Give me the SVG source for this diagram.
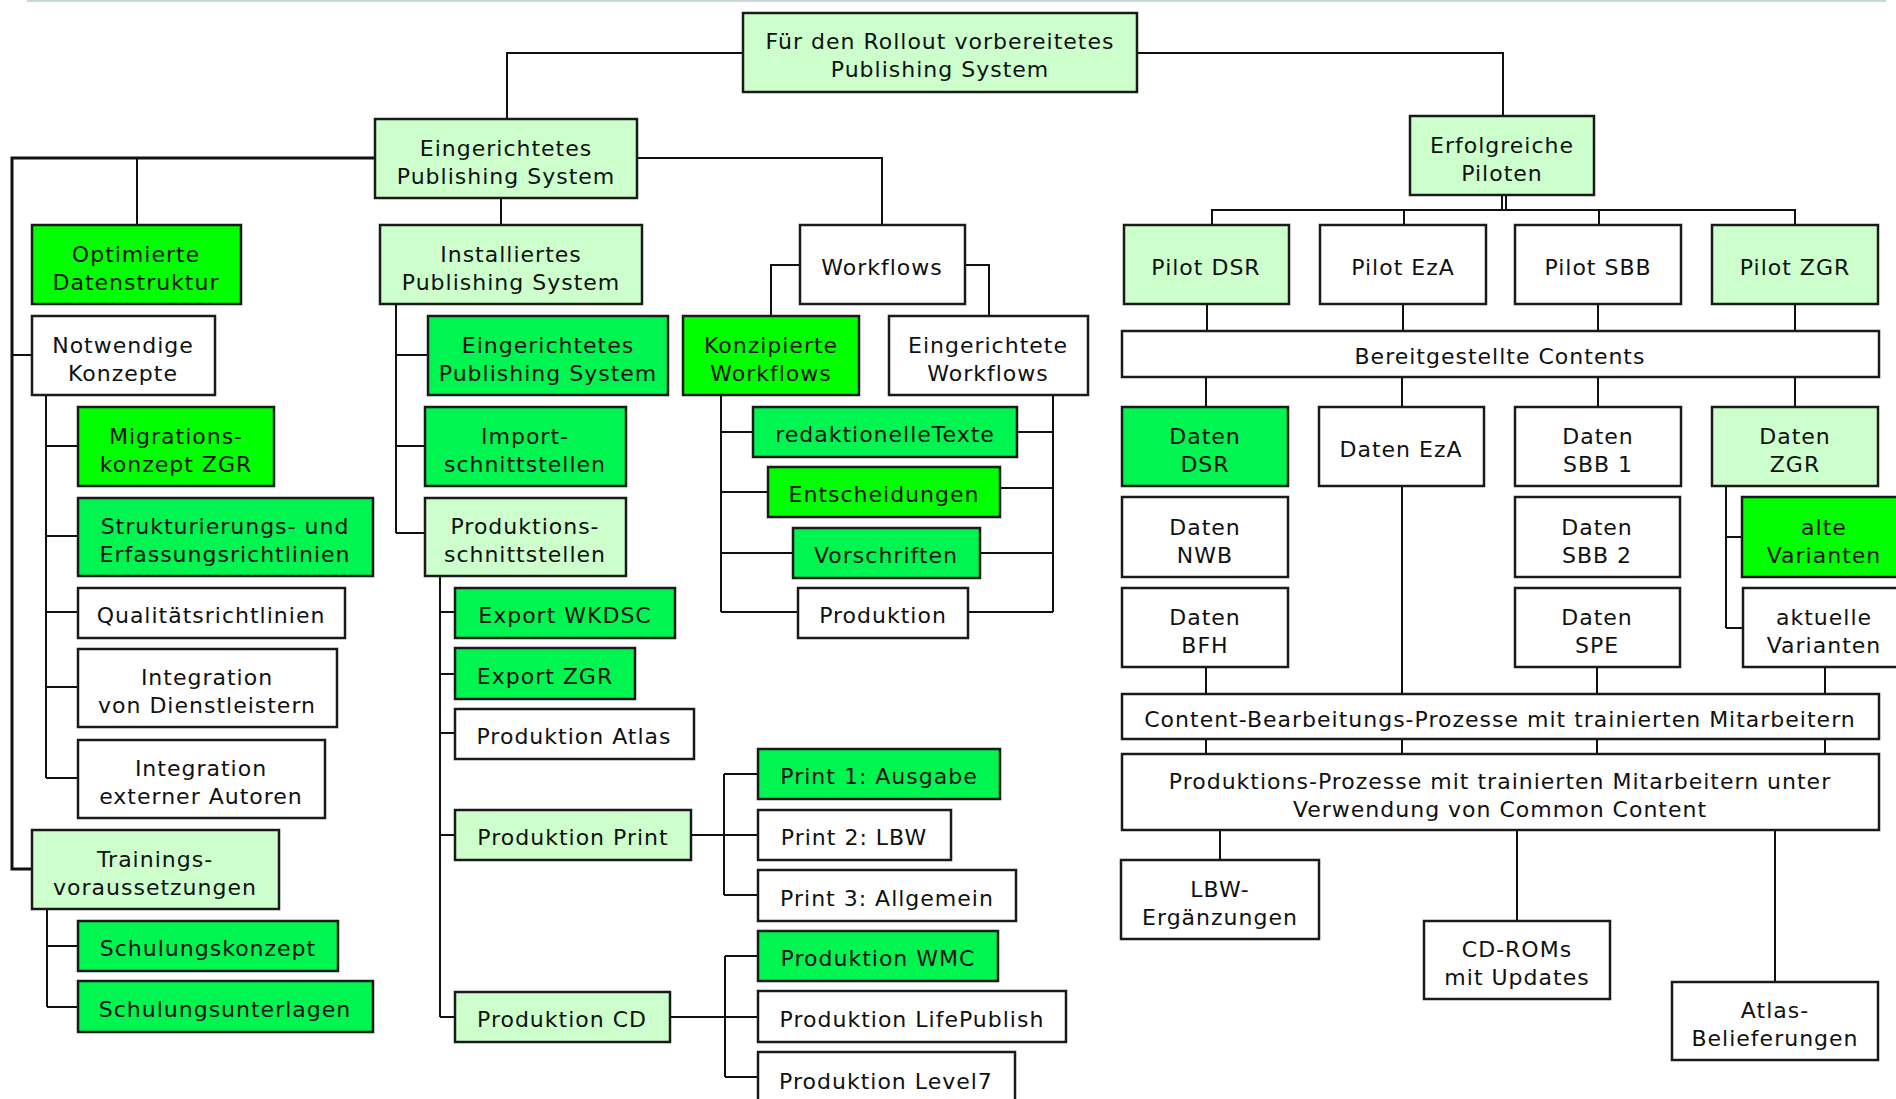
<svg xmlns="http://www.w3.org/2000/svg" width="1896" height="1099" viewBox="0 0 1896 1099">
<style>
rect{stroke:#1a1a1a;stroke-width:2.5}
.w{fill:#ffffff}.l{fill:#ccffcc}.b{fill:#00ff00}.m{fill:#00f550}
text{font-family:"DejaVu Sans","Liberation Sans",sans-serif;font-size:22px;letter-spacing:1px;fill:#111;text-anchor:middle;transform:translate(0px,2px)}
#connectors path{fill:none;stroke:#111;stroke-width:2}
</style>
<rect x="0" y="0" width="1896" height="1099" fill="#ffffff" style="stroke:none"/>
<path d="M27,1 H1886" stroke="#c5dada" stroke-width="2"/>
<g id="connectors">
<path d="M743,53 H507 V119"/>
<path d="M1137,53 H1503 V116"/>
<path d="M375,158 H12 V869 H32" style="stroke-width:3"/>
<path d="M137,158 V225"/>
<path d="M12,355 H32"/>
<path d="M637,158 H882 V225"/>
<path d="M501,198 V225"/>
<path d="M46,395 V778 M46,446 H78 M46,536 H78 M46,612 H78 M46,687 H78 M46,778 H78"/>
<path d="M47,909 V1007 M47,946 H78 M47,1007 H78"/>
<path d="M396,304 V533 M396,355 H428 M396,446 H425 M396,533 H425"/>
<path d="M440,576 V1017 M440,612 H455 M440,674 H455 M440,733 H455 M440,835 H455 M440,1017 H455"/>
<path d="M691,835 H758 M724,774 V895 M724,774 H758 M724,895 H758" />
<path d="M670,1017 H758 M725,956 V1077 M725,956 H758 M725,1077 H758"/>
<path d="M800,265 H771 V316 M965,265 H989 V316"/>
<path d="M721,395 V612 M721,432 H753 M721,492 H768 M721,553 H793 M721,612 H798"/>
<path d="M1053,390 V612 M1017,432 H1053 M1000,488 H1053 M980,553 H1053 M968,612 H1053"/>
<path d="M1502,195 V210 M1506,195 V210"/>
<path d="M1212,225 V210 H1795 V225 M1404,210 V225 M1599,210 V225"/>
<path d="M1207,304 V331 M1403,304 V331 M1598,304 V331 M1795,304 V331"/>
<path d="M1206,377 V407 M1402,377 V407 M1598,377 V407 M1795,377 V407"/>
<path d="M1726,486 V628 M1726,537 H1742 M1726,628 H1743"/>
<path d="M1402,486 V694"/>
<path d="M1206,667 V694 M1597,667 V694 M1825,667 V694"/>
<path d="M1206,739 V754 M1402,739 V754 M1597,739 V754 M1825,739 V754"/>
<path d="M1220,830 V860 M1517,830 V921 M1775,830 V982"/>
</g>
<g id="n-root"><rect class="l" x="743" y="13" width="394" height="79"/><text x="940" y="47">Für den Rollout vorbereitetes</text><text x="940" y="75">Publishing System</text></g>
<g id="n-eps"><rect class="l" x="375" y="119" width="262" height="79"/><text x="506" y="154">Eingerichtetes</text><text x="506" y="182">Publishing System</text></g>
<g id="n-erfolg"><rect class="l" x="1410" y="116" width="184" height="79"/><text x="1502" y="151">Erfolgreiche</text><text x="1502" y="179">Piloten</text></g>
<g id="n-optim"><rect class="b" x="32" y="225" width="209" height="79"/><text x="136" y="260">Optimierte</text><text x="136" y="288">Datenstruktur</text></g>
<g id="n-notw"><rect class="w" x="32" y="316" width="183" height="79"/><text x="123" y="351">Notwendige</text><text x="123" y="379">Konzepte</text></g>
<g id="n-migr"><rect class="b" x="78" y="407" width="196" height="79"/><text x="176" y="442">Migrations-</text><text x="176" y="470">konzept ZGR</text></g>
<g id="n-strukt"><rect class="m" x="78" y="498" width="295" height="78"/><text x="225" y="532">Strukturierungs- und</text><text x="225" y="560">Erfassungsrichtlinien</text></g>
<g id="n-qual"><rect class="w" x="78" y="588" width="267" height="50"/><text x="211" y="621">Qualitätsrichtlinien</text></g>
<g id="n-intdl"><rect class="w" x="78" y="649" width="259" height="78"/><text x="207" y="683">Integration</text><text x="207" y="711">von Dienstleistern</text></g>
<g id="n-intext"><rect class="w" x="78" y="740" width="247" height="78"/><text x="201" y="774">Integration</text><text x="201" y="802">externer Autoren</text></g>
<g id="n-train"><rect class="l" x="32" y="830" width="247" height="79"/><text x="155" y="865">Trainings-</text><text x="155" y="893">voraussetzungen</text></g>
<g id="n-schk"><rect class="m" x="78" y="921" width="260" height="50"/><text x="208" y="954">Schulungskonzept</text></g>
<g id="n-schu"><rect class="m" x="78" y="981" width="295" height="51"/><text x="225" y="1015">Schulungsunterlagen</text></g>
<g id="n-inst"><rect class="l" x="380" y="225" width="262" height="79"/><text x="511" y="260">Installiertes</text><text x="511" y="288">Publishing System</text></g>
<g id="n-eps2"><rect class="m" x="428" y="316" width="240" height="79"/><text x="548" y="351">Eingerichtetes</text><text x="548" y="379">Publishing System</text></g>
<g id="n-import"><rect class="m" x="425" y="407" width="201" height="79"/><text x="525" y="442">Import-</text><text x="525" y="470">schnittstellen</text></g>
<g id="n-prods"><rect class="l" x="425" y="498" width="201" height="78"/><text x="525" y="532">Produktions-</text><text x="525" y="560">schnittstellen</text></g>
<g id="n-expw"><rect class="m" x="455" y="588" width="220" height="50"/><text x="565" y="621">Export WKDSC</text></g>
<g id="n-expz"><rect class="m" x="455" y="648" width="180" height="51"/><text x="545" y="682">Export ZGR</text></g>
<g id="n-patlas"><rect class="w" x="455" y="709" width="239" height="50"/><text x="574" y="742">Produktion Atlas</text></g>
<g id="n-pprint"><rect class="l" x="455" y="810" width="236" height="50"/><text x="573" y="843">Produktion Print</text></g>
<g id="n-pcd"><rect class="l" x="455" y="992" width="215" height="50"/><text x="562" y="1025">Produktion CD</text></g>
<g id="n-p1"><rect class="m" x="758" y="749" width="242" height="50"/><text x="879" y="782">Print 1: Ausgabe</text></g>
<g id="n-p2"><rect class="w" x="758" y="810" width="193" height="50"/><text x="854" y="843">Print 2: LBW</text></g>
<g id="n-p3"><rect class="w" x="758" y="870" width="258" height="51"/><text x="887" y="904">Print 3: Allgemein</text></g>
<g id="n-wmc"><rect class="m" x="758" y="931" width="240" height="50"/><text x="878" y="964">Produktion WMC</text></g>
<g id="n-lifep"><rect class="w" x="758" y="991" width="308" height="51"/><text x="912" y="1025">Produktion LifePublish</text></g>
<g id="n-lvl7"><rect class="w" x="758" y="1052" width="257" height="52"/><text x="886" y="1087">Produktion Level7</text></g>
<g id="n-wf"><rect class="w" x="800" y="225" width="165" height="79"/><text x="882" y="273">Workflows</text></g>
<g id="n-konz"><rect class="b" x="683" y="316" width="176" height="79"/><text x="771" y="351">Konzipierte</text><text x="771" y="379">Workflows</text></g>
<g id="n-eingw"><rect class="w" x="889" y="316" width="199" height="79"/><text x="988" y="351">Eingerichtete</text><text x="988" y="379">Workflows</text></g>
<g id="n-redtx"><rect class="m" x="753" y="407" width="264" height="50"/><text x="885" y="440">redaktionelleTexte</text></g>
<g id="n-entsch"><rect class="b" x="768" y="467" width="232" height="50"/><text x="884" y="500">Entscheidungen</text></g>
<g id="n-vorsch"><rect class="m" x="793" y="528" width="187" height="50"/><text x="886" y="561">Vorschriften</text></g>
<g id="n-prod"><rect class="w" x="798" y="588" width="170" height="50"/><text x="883" y="621">Produktion</text></g>
<g id="n-pdsr"><rect class="l" x="1124" y="225" width="165" height="79"/><text x="1206" y="273">Pilot DSR</text></g>
<g id="n-peza"><rect class="w" x="1320" y="225" width="166" height="79"/><text x="1403" y="273">Pilot EzA</text></g>
<g id="n-psbb"><rect class="w" x="1515" y="225" width="166" height="79"/><text x="1598" y="273">Pilot SBB</text></g>
<g id="n-pzgr"><rect class="l" x="1712" y="225" width="166" height="79"/><text x="1795" y="273">Pilot ZGR</text></g>
<g id="n-bereit"><rect class="w" x="1122" y="331" width="757" height="46"/><text x="1500" y="362">Bereitgestellte Contents</text></g>
<g id="n-ddsr"><rect class="m" x="1122" y="407" width="166" height="79"/><text x="1205" y="442">Daten</text><text x="1205" y="470">DSR</text></g>
<g id="n-deza"><rect class="w" x="1319" y="407" width="165" height="79"/><text x="1401" y="455">Daten EzA</text></g>
<g id="n-dsbb1"><rect class="w" x="1515" y="407" width="166" height="79"/><text x="1598" y="442">Daten</text><text x="1598" y="470">SBB 1</text></g>
<g id="n-dzgr"><rect class="l" x="1712" y="407" width="166" height="79"/><text x="1795" y="442">Daten</text><text x="1795" y="470">ZGR</text></g>
<g id="n-dnwb"><rect class="w" x="1122" y="497" width="166" height="80"/><text x="1205" y="533">Daten</text><text x="1205" y="561">NWB</text></g>
<g id="n-dbfh"><rect class="w" x="1122" y="588" width="166" height="79"/><text x="1205" y="623">Daten</text><text x="1205" y="651">BFH</text></g>
<g id="n-dsbb2"><rect class="w" x="1515" y="497" width="165" height="80"/><text x="1597" y="533">Daten</text><text x="1597" y="561">SBB 2</text></g>
<g id="n-dspe"><rect class="w" x="1515" y="588" width="165" height="79"/><text x="1597" y="623">Daten</text><text x="1597" y="651">SPE</text></g>
<g id="n-alte"><rect class="b" x="1742" y="497" width="164" height="80"/><text x="1824" y="533">alte</text><text x="1824" y="561">Varianten</text></g>
<g id="n-aktuelle"><rect class="w" x="1743" y="588" width="163" height="79"/><text x="1824" y="623">aktuelle</text><text x="1824" y="651">Varianten</text></g>
<g id="n-cbp"><rect class="w" x="1122" y="694" width="757" height="45"/><text x="1500" y="725">Content-Bearbeitungs-Prozesse mit trainierten Mitarbeitern</text></g>
<g id="n-ppp"><rect class="w" x="1122" y="754" width="757" height="76"/><text x="1500" y="787">Produktions-Prozesse mit trainierten Mitarbeitern unter</text><text x="1500" y="815">Verwendung von Common Content</text></g>
<g id="n-lbw"><rect class="w" x="1121" y="860" width="198" height="79"/><text x="1220" y="895">LBW-</text><text x="1220" y="923">Ergänzungen</text></g>
<g id="n-cdrom"><rect class="w" x="1424" y="921" width="186" height="78"/><text x="1517" y="955">CD-ROMs</text><text x="1517" y="983">mit Updates</text></g>
<g id="n-atlas"><rect class="w" x="1672" y="982" width="206" height="78"/><text x="1775" y="1016">Atlas-</text><text x="1775" y="1044">Belieferungen</text></g>
</svg>
